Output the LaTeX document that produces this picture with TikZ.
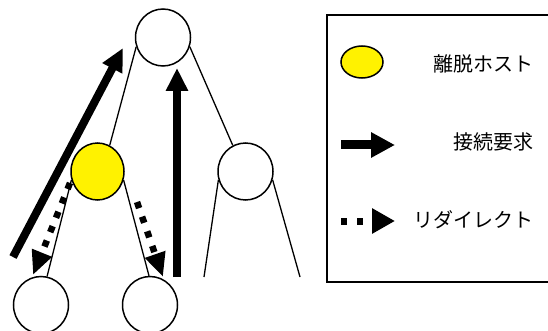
\documentclass[tikz,border=0pt]{standalone}
\usepackage{fontspec}
\setmainfont{Noto Sans CJK JP}
\usetikzlibrary{shapes.geometric,arrows.meta}
\begin{document}
\begin{tikzpicture}[x=1pt,y=-1pt,
  host/.style={ellipse,draw,line width=1.5pt,fill=white,inner sep=0pt,minimum width=55pt,minimum height=57pt},
  leave/.style={host,fill=yellow,minimum width=53pt},
  edge/.style={line width=1.3pt},
  req/.style={line width=8pt,-{Triangle[length=23pt,width=21pt]}},
  redir/.style={line width=6.5pt,dash pattern=on 6.5pt off 9pt,-{Triangle[length=24pt,width=20pt]}},
  lreq/.style={line width=9pt,-{Triangle[length=24pt,width=24pt]}},
  lredir/.style={line width=7pt,dash pattern=on 6pt off 10pt,-{Triangle[length=23pt,width=24pt]}},
  lbl/.style={anchor=east,inner sep=0pt,font=\fontsize{20}{24}\selectfont}]
\useasboundingbox (0,0) rectangle (548,331);
\clip (0,0) rectangle (548,331);
\fill[white] (0,0) rectangle (548,331);
% nodes
\node[host] (top) at (163,37.5) {};
\node[leave] (yel) at (97.5,171.5) {};
\node[host] (rc) at (245.5,171.5) {};
\node[host] (bl) at (41,305) {};
\node[host] (bm) at (150,305) {};
\coordinate (rl) at (204,277);
\coordinate (rr) at (300,277);
% tree edges
\draw[edge] (top.199) -- (yel.65);
\draw[edge] (top.-19) -- (rc.116);
\draw[edge] (yel.198) -- (bl.78);
\draw[edge] (yel.-18) -- (bm.92);
\draw[edge] (rc.197) -- (rl);
\draw[edge] (rc.-17) -- (rr);
% arrows
\coordinate (a1s) at (13,257);
\coordinate (a1e) at (123,48);
\coordinate (a2s) at (177,277);
\coordinate (a2e) at (177,68);
\coordinate (d1s) at (70,183);
\coordinate (d1e) at (33,275);
\coordinate (d2s) at (137,202);
\coordinate (d2e) at (163,277);
\draw[req] (a1s) -- (a1e);
\draw[req] (a2s) -- (a2e);
\draw[redir] (d1s) -- (d1e);
\draw[redir] (d2s) -- (d2e);
% legend
\draw[line width=1.8pt] (327,15) rectangle (570,282);
\node[ellipse,draw,line width=1.5pt,fill=yellow,inner sep=0pt,minimum width=42pt,minimum height=32pt] (ly) at (362,62) {};
\node[lbl] (t1) at (534,64) {離脱ホスト};
\coordinate (l2s) at (341,145);
\coordinate (l2e) at (395,145);
\draw[lreq] (l2s) -- (l2e);
\node[lbl] (t2) at (534,142) {接続要求};
\coordinate (l3s) at (341,221);
\coordinate (l3e) at (395,221);
\draw[lredir] (l3s) -- (l3e);
\node[lbl] (t3) at (534,220) {リダイレクト};
\end{tikzpicture}
\end{document}
